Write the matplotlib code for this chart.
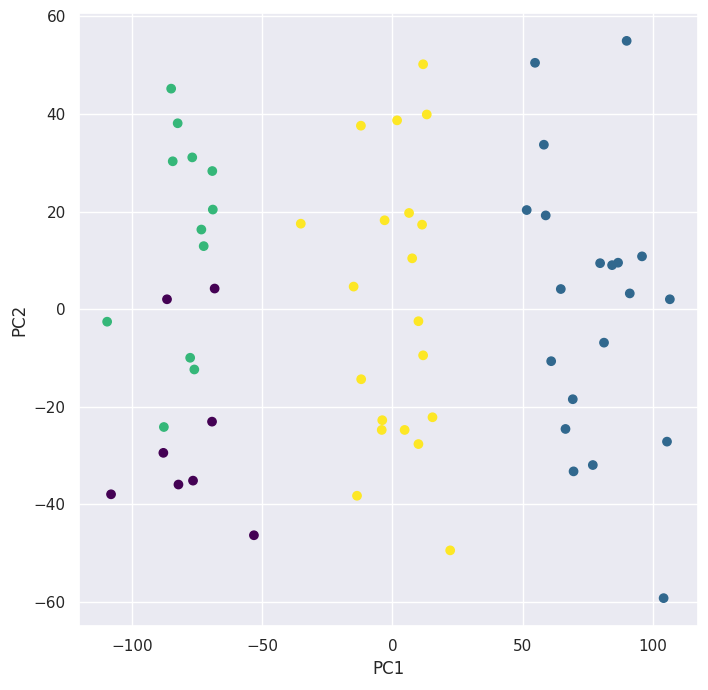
import matplotlib
matplotlib.use("Agg")
import matplotlib.pyplot as plt
import seaborn as sns
import numpy as np

sns.set_theme()

# cluster 0 (purple)
pc1_c0 = [-68.3, -86.6, -69.3, -88.0, -76.6, -82.2, -108.1, -53.2]
pc2_c0 = [4.2, 2.0, -23.1, -29.5, -35.2, -36.0, -38.0, -46.4]

# cluster 1 (blue)
pc1_c1 = [90.0, 54.8, 58.2, 51.6, 58.9, 79.8, 84.4, 86.7, 95.9, 64.7, 91.2, 106.6,
          81.3, 61.0, 69.3, 66.5, 105.5, 77.0, 69.6, 104.2]
pc2_c1 = [55.0, 50.5, 33.7, 20.3, 19.2, 9.4, 9.0, 9.5, 10.8, 4.1, 3.2, 2.0,
          -6.9, -10.7, -18.5, -24.6, -27.2, -32.0, -33.3, -59.3]

# cluster 2 (green)
pc1_c2 = [-85.0, -82.5, -84.4, -76.9, -69.2, -69.0, -73.4, -72.5, -109.6, -77.7, -76.1, -87.8]
pc2_c2 = [45.2, 38.1, 30.3, 31.1, 28.3, 20.4, 16.3, 12.9, -2.6, -10.0, -12.4, -24.2]

# cluster 3 (yellow)
pc1_c3 = [11.8, 13.2, 1.8, -12.1, -35.2, -3.0, 6.4, 11.4, 7.6, -14.9,
          10.0, 11.8, -12.0, 15.4, -3.9, -4.1, 4.7, 10.0, -13.6, 22.2]
pc2_c3 = [50.2, 39.9, 38.7, 37.6, 17.5, 18.2, 19.7, 17.3, 10.4, 4.6,
          -2.5, -9.5, -14.4, -22.2, -22.8, -24.8, -24.8, -27.7, -38.3, -49.5]

pc1 = np.array(pc1_c0 + pc1_c1 + pc1_c2 + pc1_c3)
pc2 = np.array(pc2_c0 + pc2_c1 + pc2_c2 + pc2_c3)
labels = np.array([0] * len(pc1_c0) + [1] * len(pc1_c1) + [2] * len(pc1_c2) + [3] * len(pc1_c3))

fig = plt.figure(figsize=(7.08, 6.9), dpi=100)
ax = fig.add_axes([79 / 708, 1 - 626 / 690, (698 - 79) / 708, (626 - 13) / 690])
ax.scatter(pc1, pc2, c=labels, cmap="viridis")
ax.set_xlabel("PC1")
ax.set_ylabel("PC2")

fig.savefig("out.png", dpi=100)
